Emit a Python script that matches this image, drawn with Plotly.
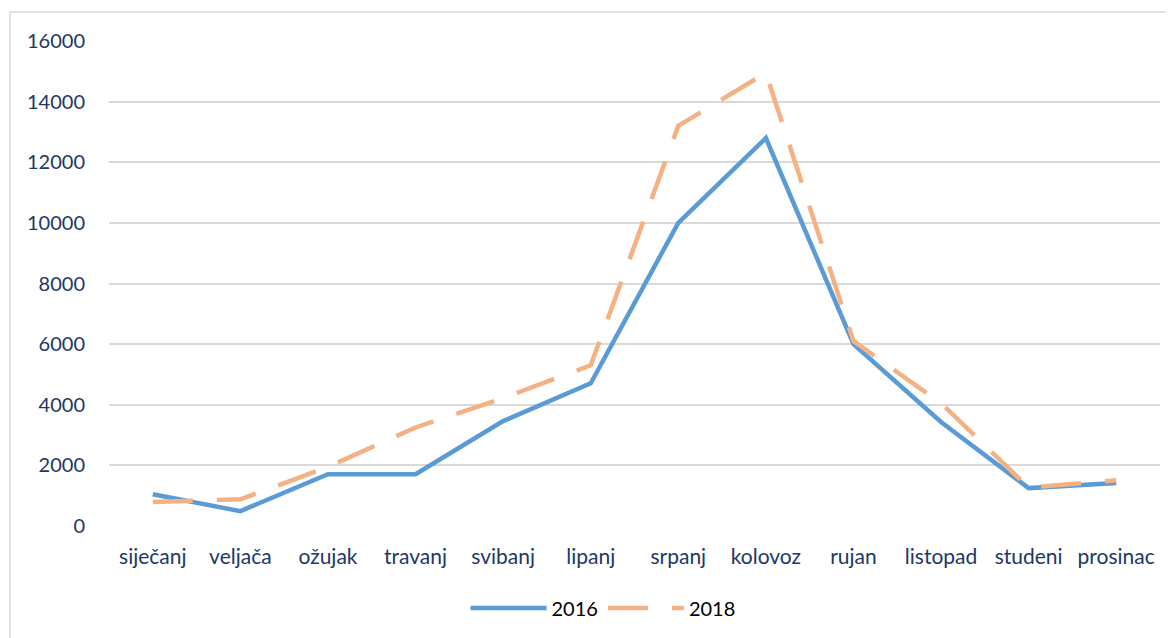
import plotly.graph_objects as go

months = ["siječanj", "veljača", "ožujak", "travanj", "svibanj", "lipanj",
          "srpanj", "kolovoz", "rujan", "listopad", "studeni", "prosinac"]
values_2016 = [1050, 490, 1710, 1710, 3460, 4710, 10000, 12800, 6000, 3430, 1250, 1420]
values_2018 = [790, 880, 1950, 3250, 4220, 5300, 13200, 14950, 6100, 4050, 1270, 1510]
y_ticks = [0, 2000, 4000, 6000, 8000, 10000, 12000, 14000, 16000]
y_tick_text = [str(v) for v in y_ticks]

W, H = 1174, 638
OFF = 8  # page body margin
pw, ph = 1051, 485
L, T = 109 - OFF, 41 - OFF
R, B = W - L - pw, H - T - ph

def px_x(x):
    return (x - OFF - L) / pw

def px_y(y):
    return (T + ph - (y - OFF)) / ph

fig = go.Figure()
fig.add_trace(go.Scatter(
    x=months, y=values_2016, name="2016", mode="lines",
    line=dict(color="#5B9BD5", width=4.5),
))
fig.add_trace(go.Scatter(
    x=months, y=values_2018, name="2018", mode="lines",
    line=dict(color="#F4B183", width=4.5, dash="40px,24px"),
))

fig.update_layout(
    width=W, height=H,
    margin=dict(l=L, r=R, t=T, b=B, autoexpand=False),
    paper_bgcolor="white", plot_bgcolor="white",
    font=dict(family="Lato, Open Sans, sans-serif", size=21, color="#203864"),
    showlegend=True,
    legend=dict(orientation="h", x=px_x(603), xanchor="center", y=px_y(608), yanchor="middle",
                font=dict(size=20, color="#000000"), itemwidth=76, traceorder="normal"),
    xaxis=dict(range=[-0.5, 11.5], showgrid=False, zeroline=False, showline=False,
               ticks="outside", ticklen=12, tickcolor="rgba(0,0,0,0)",
               tickfont=dict(size=21, color="#203864")),
    yaxis=dict(range=[0, 16000], tickvals=y_ticks, ticktext=y_tick_text,
               showgrid=True, gridcolor="#D9D9D9",
               gridwidth=1.5, zeroline=False, showline=False,
               ticks="outside", ticklen=19, tickcolor="rgba(0,0,0,0)",
               tickfont=dict(size=20, color="#203864")),
    shapes=[dict(type="rect", xref="paper", yref="paper",
                 x0=px_x(10), x1=px_x(1200), y0=px_y(670), y1=px_y(12),
                 line=dict(color="#D9D9D9", width=1.5), fillcolor="rgba(0,0,0,0)", layer="below")],
)

fig.write_html("out.html")
